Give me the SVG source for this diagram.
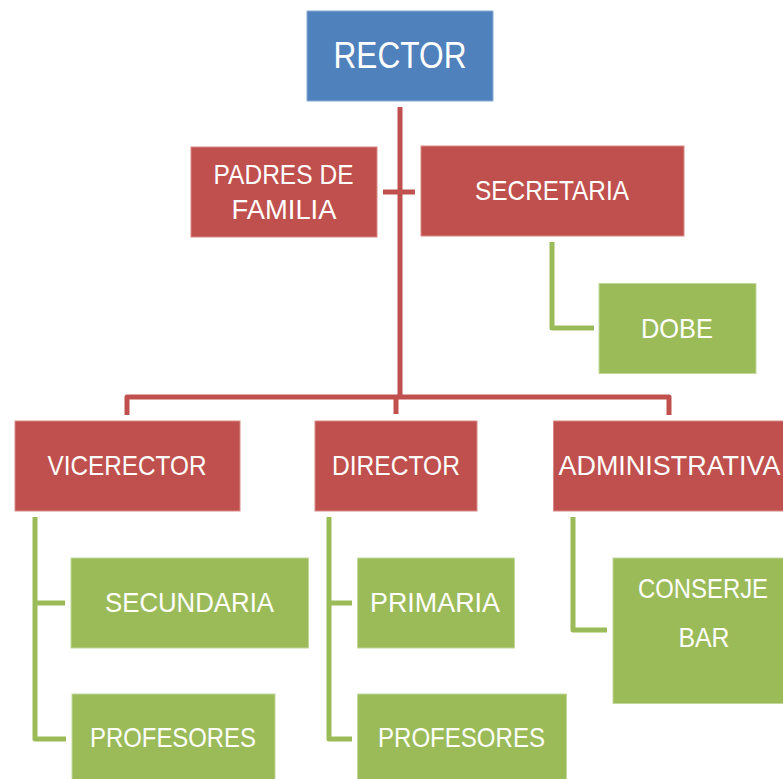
<svg xmlns="http://www.w3.org/2000/svg" width="783" height="779" viewBox="0 0 783 779">
<style>
.blue{fill:#4F81BD;stroke:#8BAAD6;stroke-width:1}
.red{fill:#C0504D;stroke:#D88A88;stroke-width:1}
.green{fill:#9BBB59;stroke:#C3D79B;stroke-width:1}
text{font-family:"Liberation Sans",Arial,sans-serif;fill:#FFFFFF;text-anchor:middle;font-size:28px}
.big{font-size:37px}
.rc{fill:none;stroke:#C0504D;stroke-width:5;stroke-linejoin:round}
.gc{fill:none;stroke:#9BBB59;stroke-width:5;stroke-linejoin:round}
</style>
<g id="connectors">
<path class="rc" d="M400,107 V397"/>
<path class="rc" d="M383,192 H415"/>
<path class="rc" d="M127,415 V397 H669 V415"/>
<path class="rc" d="M396,397 V414"/>
<path class="gc" d="M552,242 V328 H594"/>
<path class="gc" d="M35,517 V739 H66 M35,603 H65"/>
<path class="gc" d="M329,517 V739 H352 M329,603 H352"/>
<path class="gc" d="M573,517 V630 H607"/>
</g>
<g id="rector"><rect class="blue" x="307" y="11" width="186" height="90"/><text class="big" x="400" y="68" textLength="133" lengthAdjust="spacingAndGlyphs">RECTOR</text></g>
<g id="padres"><rect class="red" x="191" y="147" width="186" height="90"/><text x="283.5" y="184" textLength="140" lengthAdjust="spacingAndGlyphs">PADRES DE</text><text x="284" y="219" textLength="105" lengthAdjust="spacingAndGlyphs">FAMILIA</text></g>
<g id="secretaria"><rect class="red" x="421" y="146" width="263" height="90"/><text x="552" y="200" textLength="154" lengthAdjust="spacingAndGlyphs">SECRETARIA</text></g>
<g id="dobe"><rect class="green" x="599" y="283.5" width="157" height="90"/><text x="677" y="338" textLength="72" lengthAdjust="spacingAndGlyphs">DOBE</text></g>
<g id="vicerector"><rect class="red" x="15" y="421" width="225" height="90"/><text x="127" y="475" textLength="159" lengthAdjust="spacingAndGlyphs">VICERECTOR</text></g>
<g id="director"><rect class="red" x="315" y="421" width="162" height="90"/><text x="396" y="475" textLength="128" lengthAdjust="spacingAndGlyphs">DIRECTOR</text></g>
<g id="administrativa"><rect class="red" x="553.5" y="421" width="230.5" height="90"/><text x="669.5" y="475" textLength="222" lengthAdjust="spacingAndGlyphs">ADMINISTRATIVA</text></g>
<g id="secundaria"><rect class="green" x="71" y="558" width="237.5" height="90"/><text x="189.5" y="612" textLength="169" lengthAdjust="spacingAndGlyphs">SECUNDARIA</text></g>
<g id="profesores1"><rect class="green" x="72" y="694" width="203" height="95"/><text x="173" y="747" textLength="166" lengthAdjust="spacingAndGlyphs">PROFESORES</text></g>
<g id="primaria"><rect class="green" x="357.5" y="558" width="157" height="90"/><text x="435" y="612" textLength="130" lengthAdjust="spacingAndGlyphs">PRIMARIA</text></g>
<g id="profesores2"><rect class="green" x="357.5" y="694" width="209" height="95"/><text x="461.5" y="747" textLength="167" lengthAdjust="spacingAndGlyphs">PROFESORES</text></g>
<g id="conserje"><rect class="green" x="613" y="558" width="171" height="145.5"/><text x="703" y="598" textLength="130" lengthAdjust="spacingAndGlyphs">CONSERJE</text><text x="704" y="647" textLength="51" lengthAdjust="spacingAndGlyphs">BAR</text></g>
</svg>
